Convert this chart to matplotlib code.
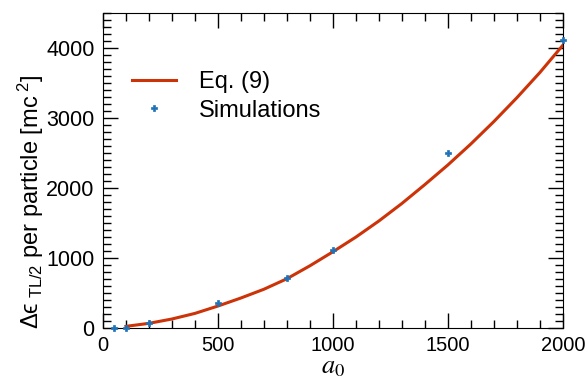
import matplotlib
matplotlib.use('Agg')
import matplotlib.pyplot as plt
from matplotlib.ticker import MultipleLocator

# simulation points (a0, energy per particle)
sim_a0 = [50, 100, 200, 500, 800, 1000, 1500, 2000]
sim_E = [5, 5, 70, 360, 710, 1110, 2500, 4110]

# Eq. (9) curve
eq_a0 = [100, 200, 300, 400, 500, 600, 700, 800, 900, 1000,
         1100, 1200, 1300, 1400, 1500, 1600, 1700, 1800, 1900, 2000]
eq_E = [25, 68, 130, 210, 315, 430, 555, 705, 890, 1090,
        1300, 1530, 1780, 2050, 2330, 2630, 2950, 3290, 3650, 4040]

plt.rcParams['font.family'] = ['Liberation Sans', 'DejaVu Sans']
plt.rcParams['mathtext.fontset'] = 'custom'
plt.rcParams['mathtext.rm'] = 'Liberation Sans'
plt.rcParams['mathtext.it'] = 'Liberation Sans:italic'
plt.rcParams['font.size'] = 15.5

fig = plt.figure(figsize=(5.85, 3.86), dpi=100)
ax = fig.add_axes([0.176, 0.150, 0.786, 0.816])

ax.plot(eq_a0, eq_E, color='#cc3308', lw=2.2, label='Eq. (9)', zorder=2)
ax.plot(sim_a0, sim_E, ls='none', marker='P', ms=5, color='#1f72b8',
        mec='#1f72b8', mew=0.5, label='Simulations', clip_on=False, zorder=3)

ax.set_xlim(0, 2000)
ax.set_ylim(0, 4500)
ax.xaxis.set_major_locator(MultipleLocator(500))
ax.xaxis.set_minor_locator(MultipleLocator(100))
ax.yaxis.set_major_locator(MultipleLocator(1000))
ax.yaxis.set_minor_locator(MultipleLocator(100))
ax.tick_params(which='both', direction='in', top=True, right=True, width=1)
ax.tick_params(which='major', length=11, pad=6)
ax.tick_params(which='minor', length=5.5)
ax.tick_params(axis='x', labelsize=14.5)

ax.set_xlabel('$a_0$', math_fontfamily='stix', fontsize=19, labelpad=0)
ax.set_ylabel(r'Δϵ$_{\mathrm{\ TL/2}}$ per particle [mc$^{\mathrm{\ 2}}$]', fontsize=17)
ax.yaxis.set_label_coords(-0.124, 0.40)

ax.legend(loc='upper left', bbox_to_anchor=(0.063, 0.816), frameon=False,
          fontsize=17, handlelength=1.85, handletextpad=1.0, borderpad=0,
          borderaxespad=0, labelspacing=0.28)

fig.savefig('out.png', dpi=100)
